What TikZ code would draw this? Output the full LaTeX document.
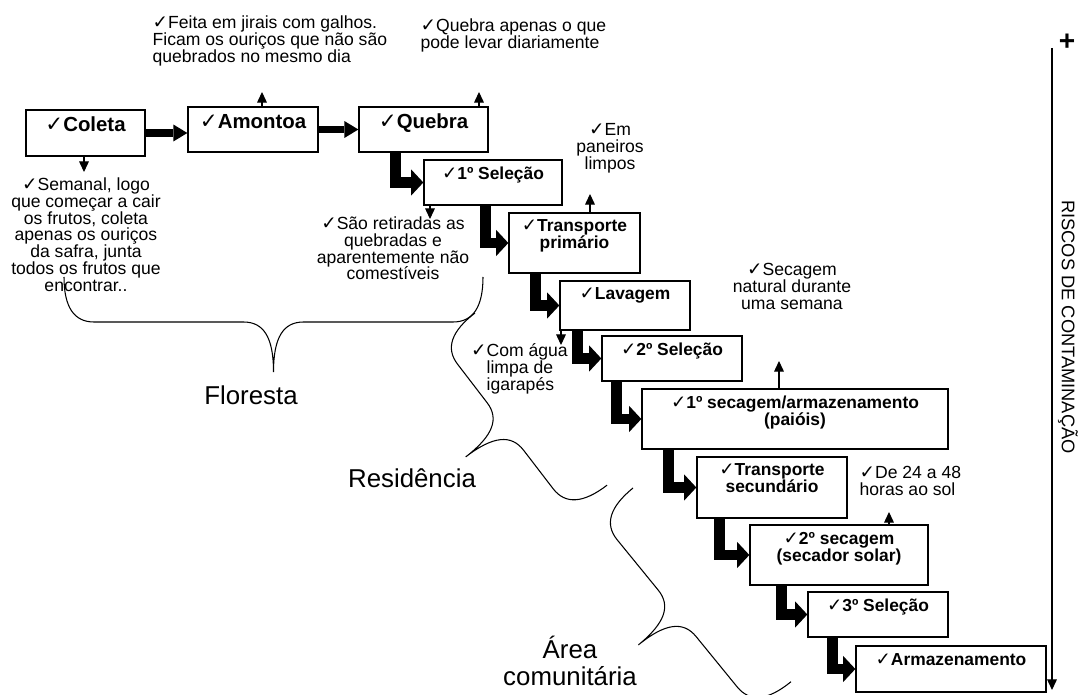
\documentclass[tikz,border=0pt]{standalone}
\usepackage{graphicx}
\usepackage{fontspec}
\setmainfont{Liberation Sans}
\newfontfamily\simbolo{DejaVu Sans}
\usetikzlibrary{arrows.meta}
\newcommand{\ok}{\scalebox{1.05}{\simbolo ✓}}
% chave: inicio, angulo, comprimento
\newcommand{\chave}[3]{%
  \draw[chavelinha, shift={#1}, rotate=#2]
    (0,0) .. controls (0,-0.6) and (0.2,-0.9) .. (0.6,-0.9)
    -- ({#3/2-0.6},-0.9) .. controls ({#3/2-0.2},-0.9) and ({#3/2},-1.2) .. ({#3/2},-1.9)
    .. controls ({#3/2},-1.2) and ({#3/2+0.2},-0.9) .. ({#3/2+0.6},-0.9)
    -- ({#3-0.6},-0.9) .. controls ({#3-0.2},-0.9) and (#3,-0.6) .. (#3,0);}

\begin{document}
\begin{tikzpicture}[>={Triangle[length=6pt,width=5.5pt]}, line width=0.75pt,
                caixa/.style={draw, inner sep=0pt},
                titulo/.style={anchor=north, inner sep=4pt, align=center,
                        font=\fontsize{9.9}{9.6}\selectfont\bfseries},
                tituloG/.style={titulo, font=\fontsize{11.6}{12}\selectfont\bfseries},
                nota/.style={inner sep=0pt, font=\fontsize{10}{9.6}\selectfont},
                regiao/.style={align=center, font=\fontsize{14.7}{15.3}\selectfont},
                seta/.style={->, line width=0.6pt},
                reta/.style={line width=4.5pt, -{Triangle[length=7.9pt,width=9.6pt,line width=0pt]}},
                cotovelo/.style={line width=6pt, -{Triangle[length=7pt,width=15pt,line width=0pt]}},
                chavelinha/.style={line width=0.6pt}]
                \useasboundingbox (0,0) rectangle (21.62,13.88);

                % etapas
                \node[caixa, minimum width=2.38cm, minimum height=0.92cm, label={[tituloG]north:\ok Coleta}] (Col) at (1.71,11.22) {};
                \node[caixa, minimum width=2.60cm, minimum height=0.90cm, label={[tituloG]north:\ok Amontoa}] (Amon) at (5.06,11.29) {};
                \node[caixa, minimum width=2.58cm, minimum height=0.90cm, label={[tituloG]north:\ok Quebra}] (Queb) at (8.47,11.29) {};
                \node[caixa, minimum width=2.76cm, minimum height=0.90cm, label={[titulo]north:\ok 1º Seleção}] (Sel1) at (9.86,10.23) {};
                \node[caixa, minimum width=2.62cm, minimum height=1.20cm, label={[titulo]north:\ok Transporte\\primário}] (TrP) at (11.49,9.02) {};
                \node[caixa, minimum width=2.60cm, minimum height=0.98cm, label={[titulo]north:\ok Lavagem}] (Lav) at (12.50,7.77) {};
                \node[caixa, minimum width=2.80cm, minimum height=0.90cm, label={[titulo]north:\ok 2º Seleção}] (Sel2) at (13.44,6.71) {};
                \node[caixa, minimum width=6.12cm, minimum height=1.20cm, label={[titulo]north:\ok 1º secagem/armazenamento\\(paióis)}] (Sec1) at (15.90,5.50) {};
                \node[caixa, minimum width=3.00cm, minimum height=1.22cm, label={[titulo]north:\ok Transporte\\secundário}] (TrS) at (15.44,4.13) {};
                \node[caixa, minimum width=3.56cm, minimum height=1.20cm, label={[titulo]north:\ok 2º secagem\\(secador solar)}] (Sec2) at (16.78,2.78) {};
                \node[caixa, minimum width=2.80cm, minimum height=0.90cm, label={[titulo]north:\ok 3º Seleção}] (Sel3) at (17.56,1.59) {};
                \node[caixa, minimum width=3.80cm, minimum height=0.92cm, label={[titulo]north:\ok Armazenamento}] (Arm) at (19.02,0.50) {};

                % notas
                \node[nota, anchor=north west, align=left] (nAmon) at (3.04,13.58) {\ok Feita em jirais com galhos.\\Ficam os ouriços que não são\\quebrados no mesmo dia};
                \node[nota, anchor=north west, align=left] (nQueb) at (8.40,13.52) {\ok Quebra apenas o que\\pode levar diariamente};
                \node[nota, anchor=north, align=center] (nCol) at (1.72,10.34) {\ok Semanal, logo\\que começar a cair\\os frutos, coleta\\apenas os ouriços\\da safra, junta\\todos os frutos que\\encontrar..};
                \node[nota, anchor=north, align=center] (nSel1) at (7.86,9.56) {\ok São retiradas as\\quebradas e\\aparentemente não\\comestíveis};
                \node[nota, anchor=north, align=center] (nTrP) at (12.20,11.42) {\ok Em\\paneiros\\limpos};
                \node[nota, anchor=north west, align=left] (nLav) at (9.72,7.02) {\llap{\ok}Com água\\limpa de\\igarapés};
                \node[nota, anchor=north, align=center] (nSec1) at (15.84,8.62) {\ok Secagem\\natural durante\\uma semana};
                \node[nota, anchor=north west, align=left] (nSec2) at (17.18,4.56) {\ok De 24 a 48\\horas ao sol};

                % regioes
                \node[regiao] (Flor) at (5.02,5.98) {Floresta};
                \node[regiao] (Resi) at (8.24,4.32) {Residência};
                \node[regiao] (Area) at (11.40,0.66) {Área\\comunitária};
                \chave{(1.28,8.34)}{0}{8.38}
                \chave{(9.50,7.62)}{-52.5}{4.34}
                \chave{(12.66,4.12)}{-50.8}{5.00}

                % riscos
                \node[font=\fontsize{16}{16}\selectfont\bfseries] (mais) at (21.34,13.04) {+};
                \node[nota, rotate=-90, font=\fontsize{10.4}{10.4}\selectfont] (Risc) at (21.36,7.34) {RISCOS DE CONTAMINAÇÃO};
                \coordinate (eixoA) at (21.04,12.92);
                \coordinate (eixoB) at (21.04,0.08);
                \draw[seta] (eixoA) -- (eixoB);

                % fluxo
                \draw[reta] (Col.east) -- (Col.east -| Amon.west);
                \draw[reta] (Amon) -- (Queb);
                \draw[cotovelo] ([xshift=0.74cm]Queb.south west) |- (Sel1.west);
                \draw[cotovelo] ([xshift=1.24cm]Sel1.south west) |- (TrP.west);
                \draw[cotovelo] ([xshift=0.54cm]TrP.south west) |- (Lav.west);
                \draw[cotovelo] ([xshift=0.36cm]Lav.south west) |- (Sel2.west);
                \draw[cotovelo] ([xshift=0.30cm]Sel2.south west) |- (Sec1.west);
                \draw[cotovelo] ([xshift=0.54cm]Sec1.south west) |- (TrS.west);
                \draw[cotovelo] ([xshift=0.46cm]TrS.south west) |- (Sec2.west);
                \draw[cotovelo] ([xshift=0.64cm]Sec2.south west) |- (Sel3.west);
                \draw[cotovelo] ([xshift=0.50cm]Sel3.south west) |- (Arm.west);

                % setas das notas
                \coordinate (tCol) at (1.68,10.44);
                \coordinate (tAmon) at (5.24,12.04);
                \coordinate (tQueb) at (9.58,12.04);
                \coordinate (tSel1) at (8.60,9.50);
                \coordinate (tTrP) at (11.80,10.00);
                \coordinate (tLav) at (11.22,6.98);
                \coordinate (tSec1) at (15.58,6.66);
                \coordinate (tSec2) at (17.78,3.64);
                \draw[seta] (Col.south -| tCol) -- (tCol);
                \draw[seta] (Amon.north -| tAmon) -- (tAmon);
                \draw[seta] (Queb.north -| tQueb) -- (tQueb);
                \draw[seta] (Sel1.south -| tSel1) -- (tSel1);
                \draw[seta] (TrP.north -| tTrP) -- (tTrP);
                \draw[seta] (Lav.south -| tLav) -- (tLav);
                \draw[seta] (Sec1.north -| tSec1) -- (tSec1);
                \draw[seta] (Sec2.north -| tSec2) -- (tSec2);
\end{tikzpicture}
\end{document}
